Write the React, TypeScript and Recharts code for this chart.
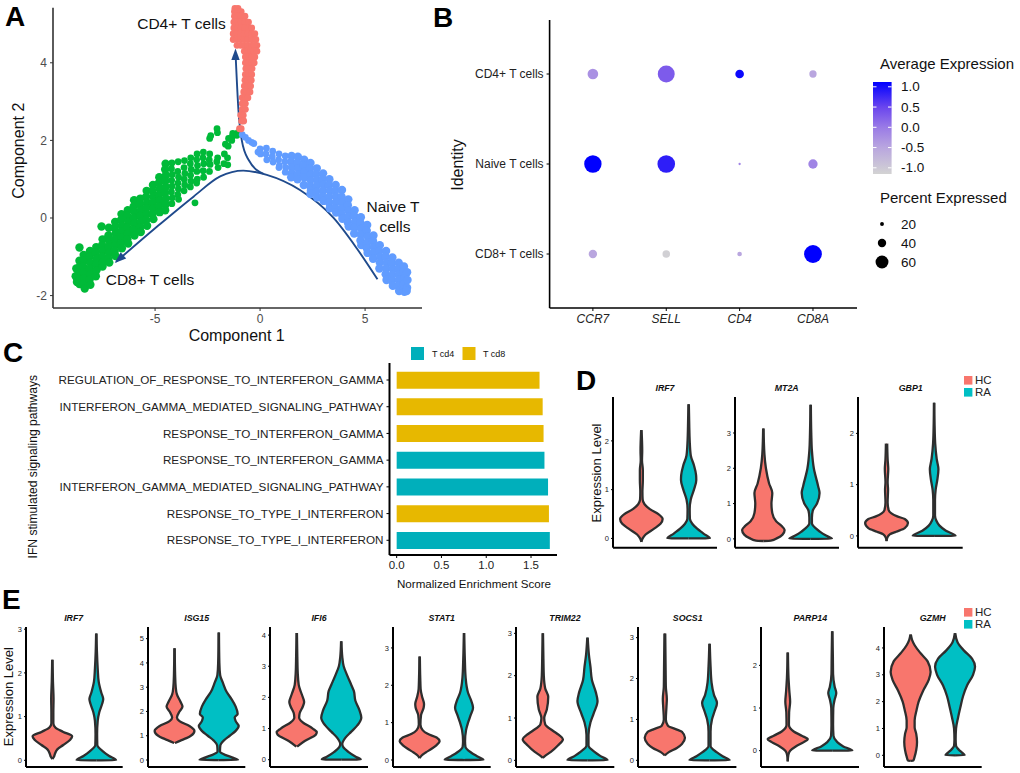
import React from "react";
import {
  ComposedChart, BarChart, Bar, Area, Line, Scatter, XAxis, YAxis,
} from "recharts";

const FONT = "'Liberation Sans', Arial, sans-serif";
const RED = "#F8766D";
const TEAL = "#00BFC4";
type P = [number, number];

/* ---------- Panel A: cells in component space ---------- */
const cd8Cells: P[] = [
  [-8.75,-1.3],[-8.78,-1.5],[-8.72,-1.65],[-8.6,-1.1],[-8.58,-1.25],[-8.62,-1.4],[-8.57,-1.55],[-8.6,-1.7],[-8.6,-0.76],
  [-8.4,-0.95],[-8.38,-1.1],[-8.42,-1.25],[-8.4,-1.4],[-8.37,-1.55],[-8.41,-1.7],[-8.35,-1.82],
  [-8.1,-0.85],[-8.12,-1.0],[-8.08,-1.15],[-8.11,-1.3],[-8.09,-1.45],[-8.12,-1.6],[-8.08,-1.72],
  [-7.8,-0.75],[-7.82,-0.9],[-7.78,-1.05],[-7.81,-1.2],[-7.79,-1.35],[-7.82,-1.5],
  [-7.5,-0.55],[-7.52,-0.7],[-7.48,-0.85],[-7.51,-1.0],[-7.49,-1.15],[-7.5,-1.25],[-7.55,-0.22],
  [-7.2,-0.25],[-7.22,-0.45],[-7.18,-0.6],[-7.21,-0.75],[-7.19,-0.9],[-7.22,-1.05],[-7.18,-1.15],
  [-6.9,-0.1],[-6.92,-0.25],[-6.88,-0.4],[-6.91,-0.55],[-6.89,-0.7],[-6.92,-0.85],[-6.88,-0.98],
  [-6.6,0.1],[-6.62,-0.05],[-6.58,-0.2],[-6.61,-0.35],[-6.59,-0.5],[-6.62,-0.65],[-6.58,-0.78],
  [-6.3,0.2],[-6.32,0.05],[-6.28,-0.1],[-6.31,-0.25],[-6.29,-0.4],[-6.32,-0.55],[-6.28,-0.66],
  [-6.0,0.46],[-6.02,0.3],[-5.98,0.15],[-6.01,0.0],[-5.99,-0.15],[-6.02,-0.3],[-5.98,-0.45],
  [-5.7,0.5],[-5.72,0.35],[-5.68,0.2],[-5.71,0.05],[-5.69,-0.1],[-5.72,-0.25],[-5.68,-0.36],
  [-5.4,0.7],[-5.42,0.55],[-5.38,0.4],[-5.41,0.25],[-5.39,0.1],[-5.42,-0.05],[-5.38,-0.2],
  [-5.1,0.85],[-5.12,0.7],[-5.08,0.55],[-5.11,0.4],[-5.09,0.25],[-5.12,0.1],[-5.08,-0.03],
  [-4.8,1.05],[-4.82,0.9],[-4.78,0.75],[-4.81,0.6],[-4.79,0.45],[-4.82,0.3],[-4.78,0.15],
  [-4.5,1.4],[-4.52,1.25],[-4.48,1.1],[-4.51,0.95],[-4.49,0.8],[-4.52,0.65],[-4.48,0.5],[-4.5,0.35],[-4.52,0.2],
  [-4.2,1.42],[-4.22,1.27],[-4.18,1.12],[-4.21,0.97],[-4.19,0.82],[-4.22,0.67],[-4.18,0.52],[-4.2,0.37],
  [-3.9,1.45],[-3.92,1.2],[-3.88,1.05],[-3.91,0.9],[-3.89,0.75],[-3.92,0.6],[-3.88,0.48],
  [-3.6,1.48],[-3.62,1.3],[-3.58,1.15],[-3.61,1.0],[-3.59,0.85],[-3.62,0.7],
  [-3.3,1.55],[-3.32,1.4],[-3.28,1.25],[-3.31,1.1],[-3.29,0.95],[-3.32,0.8],
  [-3.0,1.65],[-3.02,1.5],[-2.98,1.35],[-3.01,1.2],[-2.99,1.0],[-3.02,0.9],[-3.1,0.39],
  [-2.7,1.7],[-2.72,1.55],[-2.68,1.4],[-2.71,1.22],[-2.69,1.05],
  [-2.4,1.65],[-2.42,1.5],[-2.38,1.38],[-2.41,1.2],[-2.4,2.05],[-2.35,2.12],
  [-2.05,2.3],[-2.03,2.2],[-2.02,1.55],[-2.06,1.45],[-2.0,1.3],
  [-1.7,1.65],[-1.72,1.4],[-1.65,1.9],[-1.5,2.05],[-1.52,1.85],[-1.55,1.55],[-1.54,1.37],
  [-1.3,2.18],[-1.32,2.1],[-1.35,2.0],[-1.05,2.2],[-1.1,2.13],
];
const naiveCells: P[] = [
  [-0.85,2.15],[-0.7,2.08],[-0.55,2.0],[-0.4,1.95],[-0.3,1.92],[-0.1,1.7],
  [0.0,1.78],[0.02,1.65],[0.3,1.8],[0.28,1.65],[0.32,1.5],[0.6,1.72],[0.58,1.58],[0.62,1.44],
  [0.9,1.65],[0.88,1.5],[0.92,1.35],[0.9,1.3],[1.2,1.6],[1.18,1.45],[1.22,1.3],[1.2,1.18],
  [1.5,1.6],[1.48,1.45],[1.52,1.3],[1.5,1.15],[1.48,1.05],[1.8,1.58],[1.78,1.42],[1.82,1.28],[1.8,1.12],[1.78,1.0],
  [2.1,1.5],[2.08,1.35],[2.12,1.2],[2.1,1.05],[2.08,0.85],
  [2.4,1.42],[2.38,1.27],[2.42,1.12],[2.4,0.97],[2.38,0.82],[2.42,0.7],[2.4,0.62],
  [2.7,1.28],[2.68,1.13],[2.72,0.98],[2.7,0.83],[2.68,0.68],[2.72,0.53],
  [3.0,1.15],[2.98,1.0],[3.02,0.85],[3.0,0.7],[2.98,0.55],[3.02,0.44],
  [3.3,1.0],[3.28,0.85],[3.32,0.7],[3.3,0.55],[3.28,0.4],[3.32,0.25],
  [3.6,0.85],[3.58,0.7],[3.62,0.55],[3.6,0.4],[3.58,0.25],[3.62,0.14],
  [3.9,0.72],[3.88,0.55],[3.92,0.4],[3.9,0.25],[3.88,0.1],[3.92,-0.02],
  [4.2,0.48],[4.18,0.33],[4.22,0.18],[4.2,0.03],[4.18,-0.12],[4.22,-0.22],
  [4.5,0.2],[4.48,0.05],[4.52,-0.1],[4.5,-0.25],[4.48,-0.4],
  [4.8,0.02],[4.78,-0.13],[4.82,-0.28],[4.8,-0.43],[4.78,-0.58],[4.82,-0.7],
  [5.1,-0.18],[5.08,-0.33],[5.12,-0.48],[5.1,-0.63],[5.08,-0.78],[5.12,-0.9],
  [5.4,-0.45],[5.38,-0.6],[5.42,-0.75],[5.4,-0.9],[5.38,-1.05],
  [5.7,-0.7],[5.68,-0.85],[5.72,-1.0],[5.7,-1.15],[5.68,-1.3],
  [6.0,-0.85],[5.98,-1.0],[6.02,-1.15],[6.0,-1.3],[5.98,-1.45],[6.02,-1.6],
  [6.3,-1.02],[6.28,-1.17],[6.32,-1.32],[6.3,-1.47],[6.28,-1.62],[6.32,-1.75],
  [6.6,-1.15],[6.58,-1.3],[6.62,-1.45],[6.6,-1.6],[6.58,-1.75],[6.62,-1.88],
  [6.85,-1.25],[6.83,-1.4],[6.87,-1.55],[6.85,-1.7],[6.83,-1.85],[6.87,-1.9],
  [7.0,-1.4],[7.02,-1.6],[7.0,-1.8],[6.98,-1.88],
];
const cd4Cells: P[] = [
  [-1.2,5.4],[-1.05,5.4],[-1.22,5.32],[-1.05,5.32],[-0.9,5.32],[-1.22,5.2],[-1.05,5.2],[-0.9,5.2],[-0.72,5.2],
  [-1.25,5.05],[-1.08,5.05],[-0.9,5.05],[-0.72,5.05],[-0.55,5.05],[-1.25,4.9],[-1.08,4.9],[-0.9,4.9],[-0.72,4.9],[-0.55,4.9],[-0.4,4.9],
  [-1.28,4.75],[-1.1,4.75],[-0.92,4.75],[-0.75,4.75],[-0.58,4.75],[-0.4,4.75],[-0.25,4.75],
  [-1.28,4.6],[-1.1,4.6],[-0.92,4.6],[-0.75,4.6],[-0.58,4.6],[-0.4,4.6],[-0.2,4.6],
  [-1.1,4.45],[-0.92,4.45],[-0.75,4.45],[-0.58,4.45],[-0.4,4.45],[-0.15,4.45],[-0.28,4.45],
  [-0.75,4.3],[-0.6,4.3],[-0.45,4.3],[-0.3,4.3],[-0.15,4.3],[-0.7,4.15],[-0.55,4.15],[-0.4,4.15],[-0.25,4.15],
  [-0.7,4.0],[-0.55,4.0],[-0.4,4.0],[-0.28,4.0],[-0.68,3.85],[-0.53,3.85],[-0.38,3.85],
  [-0.7,3.7],[-0.55,3.7],[-0.4,3.7],[-0.72,3.55],[-0.57,3.55],[-0.42,3.55],[-0.75,3.4],[-0.6,3.4],[-0.45,3.4],
  [-0.78,3.25],[-0.62,3.25],[-0.48,3.25],[-0.85,3.1],[-0.7,3.1],[-0.58,3.1],[-0.85,2.95],[-0.7,2.95],
  [-0.85,2.8],[-0.7,2.8],[-0.92,2.65],[-0.8,2.65],[-0.88,2.5],[-0.78,2.5],[-0.98,2.3],[-0.9,2.3],
];
const stemPath: P[] = [[-6.86,-1.13],[-4.9,-0.22],[-3.17,0.55],[-1.9,1.07],[-0.8,1.22],[0.32,1.11],[1.9,0.72],[3.5,0.0],[4.6,-0.78],[5.59,-1.58]];
const cd4Branch: P[] = [[-1.16,4.15],[-1.03,2.78],[-0.87,2.0],[-0.55,1.5],[0.16,1.14]];
const arrowTips = [{ x: -1.17, y: 4.37, angle: 0 }, { x: -6.92, y: -1.16, angle: -131 }];

const pts = (a: P[]) => a.map(([x, y]) => ({ x, y }));
const cd8Dense = cd8Cells.filter(([x]) => x < -4.4);
const cd8Loose = cd8Cells.filter(([x]) => x >= -4.4);
const naiveDense = naiveCells.filter(([x]) => x >= 1.4);
const naiveLoose = naiveCells.filter(([x]) => x < 1.4);

/* ---------- Panel B: dot plot ---------- */
const genes = ["CCR7", "SELL", "CD4", "CD8A"];
const identities = ["CD8+ T cells", "Naive T cells", "CD4+ T cells"];
const cd4Row = { pct: [50, 78, 41, 35], avg: [-0.25, 0.3, 1.05, -0.5] };
const naiveRow = { pct: [80, 81, 13, 44], avg: [1.15, 0.85, -0.1, -0.1] };
const cd8Row = { pct: [40, 36, 23, 82], avg: [-0.5, -1.1, -0.5, 1.2] };
const exprStops: [number, string][] = [[1.12, "#0000ff"], [0.5, "#6a45ee"], [0, "#9a7be6"], [-0.5, "#b9a6df"], [-1.15, "#d3d3d3"]];
const pctLegend = [20, 40, 60];
const exprTicks = [1.0, 0.5, 0.0, -0.5, -1.0];

const hex = (s: string) => [1, 3, 5].map((i) => parseInt(s.slice(i, i + 2), 16));
function exprColor(v: number) {
  for (let i = 0; i < exprStops.length - 1; i++) {
    const [a, ca] = exprStops[i];
    const [b, cb] = exprStops[i + 1];
    if (v <= a && v >= b) {
      const t = (a - v) / (a - b);
      const A = hex(ca), B = hex(cb);
      return `rgb(${A.map((c, k) => Math.round(c + (B[k] - c) * t)).join(",")})`;
    }
  }
  return v > 0 ? exprStops[0][1] : exprStops[exprStops.length - 1][1];
}
const pctRadius = (p: number) => 0.1125 * p - 0.3;
const dotRows = [cd8Row, naiveRow, cd4Row].flatMap((row, r) =>
  genes.map((_, g) => ({ x: g + 1, y: r + 1, pct: row.pct[g], avg: row.avg[g] }))
);

/* ---------- Panel C: enrichment ---------- */
const pathways = [
  "REGULATION_OF_RESPONSE_TO_INTERFERON_GAMMA",
  "INTERFERON_GAMMA_MEDIATED_SIGNALING_PATHWAY",
  "RESPONSE_TO_INTERFERON_GAMMA",
  "RESPONSE_TO_INTERFERON_GAMMA",
  "INTERFERON_GAMMA_MEDIATED_SIGNALING_PATHWAY",
  "RESPONSE_TO_TYPE_I_INTERFERON",
  "RESPONSE_TO_TYPE_I_INTERFERON",
];
const nesCd4 = [null, null, null, 1.65, 1.69, null, 1.71];
const nesCd8 = [1.595, 1.63, 1.64, null, null, 1.7, null];
const nesRows = pathways.map((name, i) => ({ name, cd4: nesCd4[i], cd8: nesCd8[i] }));

/* ---------- Panels D, E: violins as [level, relative half width] ---------- */
const dIrf7Hc: P[] = [[-0.07,0],[0,0.06],[0.08,0.2],[0.2,0.6],[0.3,0.9],[0.4,1],[0.5,0.8],[0.6,0.4],[0.7,0.15],[0.8,0.06],[0.95,0.05],[1.2,0.07],[1.4,0.07],[1.6,0.03],[1.8,0.04],[2.22,0.01]];
const dIrf7Ra: P[] = [[-0.001,0],[0,1],[0.1,0.7],[0.2,0.4],[0.3,0.17],[0.4,0.06],[0.6,0.05],[0.8,0.1],[1,0.25],[1.2,0.36],[1.3,0.35],[1.5,0.25],[1.7,0.1],[2,0.05],[2.3,0.03],[2.75,0.01]];
const dMt2aHc: P[] = [[-0.06,0],[-0.05,0.35],[0.02,0.65],[0.12,0.9],[0.25,1],[0.37,0.85],[0.5,0.6],[0.73,0.42],[1,0.38],[1.3,0.42],[1.57,0.27],[2,0.12],[2.4,0.05],[3.13,0.01]];
const dMt2aRa: P[] = [[-0.001,0],[0,1],[0.1,0.7],[0.2,0.45],[0.44,0.06],[0.6,0.06],[0.8,0.1],[1,0.3],[1.3,0.42],[1.5,0.35],[2,0.15],[2.5,0.06],[3,0.03],[3.8,0.01]];
const dGbp1Hc: P[] = [[-0.1,0],[-0.04,0.03],[0.03,0.15],[0.08,0.45],[0.15,0.85],[0.25,1],[0.33,0.85],[0.38,0.5],[0.5,0.1],[0.65,0.05],[0.9,0.07],[1.05,0.05],[1.3,0.08],[1.5,0.05],[1.8,0.03]];
const dGbp1Ra: P[] = [[-0.001,0],[0,1],[0.1,0.55],[0.2,0.25],[0.3,0.1],[0.4,0.04],[0.7,0.04],[0.9,0.07],[1.1,0.15],[1.3,0.2],[1.5,0.12],[1.8,0.05],[2.2,0.02],[2.6,0.01]];

const eIrf7Hc: P[] = [[0.03,0],[0.08,0.08],[0.15,0.13],[0.25,0.25],[0.35,0.55],[0.47,0.9],[0.55,1],[0.65,0.55],[0.75,0.15],[0.85,0.05],[1.1,0.05],[1.4,0.06],[1.8,0.03],[2.3,0.01]];
const eIrf7Ra: P[] = [[-0.001,0],[0,1],[0.1,0.65],[0.2,0.35],[0.35,0.05],[0.6,0.04],[0.9,0.07],[1.1,0.15],[1.3,0.3],[1.4,0.35],[1.55,0.25],[1.8,0.12],[2.1,0.07],[2.5,0.03],[2.9,0.01]];
const eIsg15Hc: P[] = [[0.7,0.02],[0.8,0.3],[0.9,0.6],[1,0.82],[1.2,1],[1.4,0.75],[1.6,0.25],[1.75,0.12],[2,0.25],[2.2,0.4],[2.4,0.3],[2.7,0.12],[3,0.06],[3.5,0.03],[4.6,0.01]];
const eIsg15Ra: P[] = [[-0.001,0],[0,0.97],[0.1,0.7],[0.2,0.35],[0.35,0.06],[0.6,0.08],[0.8,0.25],[1,0.55],[1.2,0.85],[1.4,1],[1.6,0.85],[1.75,0.8],[1.9,0.95],[2.2,0.85],[2.5,0.65],[2.8,0.4],[3.2,0.2],[3.5,0.07],[4,0.03],[5.25,0.01]];
const eIfi6Hc: P[] = [[0.42,0.02],[0.6,0.4],[0.8,0.95],[0.88,1],[1,0.8],[1.2,0.3],[1.35,0.12],[1.5,0.15],[1.7,0.3],[1.85,0.37],[2.1,0.25],[2.4,0.1],[2.8,0.05],[3.3,0.03],[4.07,0.01]];
const eIfi6Ra: P[] = [[-0.001,0],[0,0.97],[0.1,0.7],[0.25,0.35],[0.4,0.1],[0.5,0.05],[0.7,0.2],[0.9,0.5],[1.1,0.8],[1.35,1],[1.6,0.9],[1.9,0.7],[2.2,0.63],[2.4,0.5],[2.7,0.3],[3,0.12],[3.3,0.05],[3.8,0.01]];
const eStat1Hc: P[] = [[0.05,0],[0.12,0.1],[0.2,0.3],[0.3,0.6],[0.4,0.85],[0.5,1],[0.6,0.85],[0.7,0.4],[0.8,0.15],[0.95,0.04],[1.2,0.07],[1.4,0.2],[1.5,0.22],[1.7,0.12],[1.9,0.05],[2.2,0.03],[2.77,0.01]];
const eStat1Ra: P[] = [[-0.001,0],[0,0.97],[0.1,0.65],[0.2,0.35],[0.35,0.07],[0.5,0.05],[0.8,0.1],[1,0.2],[1.2,0.33],[1.4,0.45],[1.6,0.35],[1.8,0.2],[2.2,0.08],[2.7,0.04],[3.4,0.01]];
const eTrim22Hc: P[] = [[0.06,0],[0.1,0.1],[0.2,0.4],[0.35,0.75],[0.5,1],[0.6,0.8],[0.7,0.5],[0.85,0.12],[1,0.07],[1.2,0.2],[1.5,0.27],[1.7,0.12],[2,0.05],[2.4,0.03],[3,0.01]];
const eTrim22Ra: P[] = [[-0.001,0],[0,1],[0.1,0.65],[0.2,0.35],[0.35,0.05],[0.6,0.05],[0.9,0.15],[1.1,0.3],[1.4,0.5],[1.6,0.42],[1.9,0.22],[2.2,0.15],[2.5,0.07],[2.9,0.01]];
const eSocs1Hc: P[] = [[0.12,0],[0.2,0.2],[0.3,0.6],[0.4,0.85],[0.55,1],[0.7,0.85],[0.75,0.6],[0.85,0.15],[1,0.05],[1.3,0.08],[1.5,0.1],[1.8,0.05],[2.2,0.04],[3.1,0.02]];
const eSocs1Ra: P[] = [[-0.001,0],[0,1],[0.1,0.65],[0.2,0.35],[0.35,0.05],[0.7,0.05],[1,0.12],[1.2,0.25],[1.4,0.37],[1.6,0.22],[1.9,0.1],[2.3,0.05],[2.85,0.01]];
const eParp14Hc: P[] = [[-0.25,0],[-0.1,0.03],[0,0.12],[0.1,0.4],[0.2,0.8],[0.27,1],[0.35,0.7],[0.45,0.3],[0.6,0.06],[0.9,0.07],[1.15,0.12],[1.4,0.08],[1.7,0.04],[2.3,0.01]];
const eParp14Ra: P[] = [[-0.001,0],[0,1],[0.1,0.55],[0.2,0.25],[0.35,0.06],[0.6,0.04],[1,0.05],[1.2,0.12],[1.35,0.2],[1.5,0.12],[1.8,0.04],[2.2,0.03],[2.8,0.01]];
const eGzmhHc: P[] = [[-0.21,0],[-0.2,0.13],[-0.05,0.2],[0.2,0.28],[0.5,0.32],[0.8,0.28],[1.05,0.2],[1.3,0.2],[1.7,0.3],[2,0.4],[2.4,0.62],[2.8,0.9],[3.1,1],[3.5,0.85],[3.8,0.5],[4.1,0.2],[4.3,0.07],[4.5,0.01]];
const eGzmhRa: P[] = [[-0.001,0],[0,0.48],[0.1,0.35],[0.2,0.2],[0.35,0.05],[0.6,0.03],[1,0.05],[1.4,0.15],[1.8,0.27],[2.2,0.4],[2.6,0.6],[3,0.9],[3.3,1],[3.6,0.85],[3.9,0.45],[4.2,0.13],[4.55,0.01]];

const band = (v: P[], center: number) =>
  v.map(([y, w]) => ({ y, range: [center - 0.45 * w, center + 0.45 * w] }));

type VP = { x0: number; x1: number; top: number; bottom: number; domain: number[]; ticks: number[]; hc: P[]; ra: P[]; font: number };

function Violin({ x0, x1, top, bottom, domain, ticks, hc, ra, font }: VP) {
  const L = 26;
  return (
    <div style={{ position: "absolute", left: x0 - L, top: top - 2 }}>
      <ComposedChart layout="vertical" width={x1 - x0 + L + 4} height={bottom - top + 7}
        margin={{ top: 2, right: 4, bottom: 4, left: 0 }}>
        <XAxis type="number" domain={[0.4, 2.6]} tick={false} tickLine={false} height={1}
          axisLine={{ stroke: "#000", strokeWidth: 2 }} />
        <YAxis type="number" dataKey="y" reversed width={L} domain={domain} ticks={ticks} interval={0}
          tickSize={2} tickMargin={2} tick={{ fontSize: font, fill: "#222", fontFamily: FONT }}
          axisLine={{ stroke: "#000", strokeWidth: 2 }} tickLine={{ stroke: "#000" }} />
        <Area data={band(hc, 1)} dataKey="range" type="monotone" fill={RED} fillOpacity={1}
          stroke="#2e2e2e" strokeWidth={2.3} dot={false} activeDot={false} isAnimationActive={false} />
        <Area data={band(ra, 2)} dataKey="range" type="monotone" fill={TEAL} fillOpacity={1}
          stroke="#2e2e2e" strokeWidth={2.3} dot={false} activeDot={false} isAnimationActive={false} />
      </ComposedChart>
    </div>
  );
}

const dTop = 397, dBottom = 547.7, eTop = 627.3, eBottom = 767.3;
const panelD: (VP & { title: string })[] = [
  { title: "IRF7", x0: 613, x1: 717, top: dTop, bottom: dBottom, domain: [-0.19, 2.9], ticks: [0, 1, 2], hc: dIrf7Hc, ra: dIrf7Ra, font: 7.5 },
  { title: "MT2A", x0: 735, x1: 839, top: dTop, bottom: dBottom, domain: [-0.25, 4.02], ticks: [0, 1, 2, 3], hc: dMt2aHc, ra: dMt2aRa, font: 7.5 },
  { title: "GBP1", x0: 858.3, x1: 963, top: dTop, bottom: dBottom, domain: [-0.23, 2.71], ticks: [0, 1, 2], hc: dGbp1Hc, ra: dGbp1Ra, font: 7.5 },
];
const panelE: (VP & { title: string })[] = [
  { title: "IRF7", x0: 26, x1: 122.7, top: eTop, bottom: eBottom, domain: [-0.153, 3.05], ticks: [0, 1, 2, 3], hc: eIrf7Hc, ra: eIrf7Ra, font: 7.5 },
  { title: "ISG15", x0: 147.7, x1: 245, top: eTop, bottom: eBottom, domain: [-0.288, 5.48], ticks: [0, 1, 2, 3, 4, 5], hc: eIsg15Hc, ra: eIsg15Ra, font: 7.5 },
  { title: "IFI6", x0: 270, x1: 368, top: eTop, bottom: eBottom, domain: [-0.235, 4.26], ticks: [0, 1, 2, 3, 4], hc: eIfi6Hc, ra: eIfi6Ra, font: 7.5 },
  { title: "STAT1", x0: 393, x1: 490.7, top: eTop, bottom: eBottom, domain: [-0.1875, 3.56], ticks: [0, 1, 2, 3], hc: eStat1Hc, ra: eStat1Ra, font: 7.5 },
  { title: "TRIM22", x0: 515.7, x1: 614, top: eTop, bottom: eBottom, domain: [-0.157, 3.15], ticks: [0, 1, 2, 3], hc: eTrim22Hc, ra: eTrim22Ra, font: 7.5 },
  { title: "SOCS1", x0: 638.3, x1: 736.7, top: eTop, bottom: eBottom, domain: [-0.163, 3.26], ticks: [0, 1, 2, 3], hc: eSocs1Hc, ra: eSocs1Ra, font: 7.5 },
  { title: "PARP14", x0: 761.3, x1: 859.3, top: eTop, bottom: eBottom, domain: [-0.383, 2.9], ticks: [0, 1, 2], hc: eParp14Hc, ra: eParp14Ra, font: 7.5 },
  { title: "GZMH", x0: 884, x1: 981.7, top: eTop, bottom: eBottom, domain: [-0.435, 4.78], ticks: [0, 1, 2, 3, 4], hc: eGzmhHc, ra: eGzmhRa, font: 7.5 },
];
const titleD = [665, 786.7, 910.7];
const titleE = [73.7, 196.7, 319, 441.7, 565, 687.7, 810.3, 932.7];

function T({ x, y, s, size = 12, anchor = "start", weight, italic, rot, fill = "#111" }: any) {
  return (
    <text x={x} y={y} fontSize={size} textAnchor={anchor} dominantBaseline="central" fontWeight={weight}
      fontStyle={italic ? "italic" : undefined} fill={fill} fontFamily={FONT}
      transform={rot ? `rotate(${rot} ${x} ${y})` : undefined}>{s}</text>
  );
}

const Arrow = (p: any) => (
  <polygon points={`${p.cx},${p.cy} ${p.cx - 4.2},${p.cy + 11.5} ${p.cx + 4.2},${p.cy + 11.5}`} fill="#1F4A8C"
    transform={`rotate(${p.payload.angle} ${p.cx} ${p.cy})`} />
);
const Dot = (p: any) => <circle cx={p.cx} cy={p.cy} r={pctRadius(p.payload.pct)} fill={exprColor(p.payload.avg)} />;
const cell = (r: number, fill: string) => (p: any) => <circle cx={p.cx} cy={p.cy} r={r} fill={fill} />;

function LegendHcRa({ x, y }: { x: number; y: number }) {
  return (
    <g>
      <rect x={x} y={y} width={8.4} height={8.6} fill={RED} />
      <rect x={x} y={y + 12} width={8.4} height={8.6} fill={TEAL} />
      <T x={x + 11} y={y + 4.3} s="HC" size={11.5} fill="#222" />
      <T x={x + 11} y={y + 16.3} s="RA" size={11.5} fill="#222" />
    </g>
  );
}

export default function App() {
  const axisA = { stroke: "#333", strokeWidth: 1.6 };
  const axisK = { stroke: "#000", strokeWidth: 1.6 };
  return (
    <div style={{ position: "absolute", left: 0, top: 0, width: 1020, height: 773, background: "#fff", overflow: "hidden", fontFamily: FONT }}>
      {/* A */}
      <div style={{ position: "absolute", left: 0, top: 0 }}>
        <ComposedChart width={430} height={340} margin={{ top: 7.7, right: 8, bottom: 0, left: 0 }}>
          <XAxis type="number" dataKey="x" domain={[-9.86, 7.71]} ticks={[-5, 0, 5]} height={32} tickSize={3} tickMargin={3}
            tick={{ fontSize: 12, fill: "#4d4d4d", fontFamily: FONT }} axisLine={axisA} tickLine={{ stroke: "#333" }} />
          <YAxis type="number" dataKey="y" domain={[-2.32, 5.42]} ticks={[-2, 0, 2, 4]} width={53} tickSize={3} tickMargin={3}
            tick={{ fontSize: 12, fill: "#4d4d4d", fontFamily: FONT }} axisLine={axisA} tickLine={{ stroke: "#333" }} />
          <Scatter data={pts(cd8Dense)} shape={cell(4.2, "#00BA38")} isAnimationActive={false} />
          <Scatter data={pts(cd8Loose)} shape={cell(3.4, "#00BA38")} isAnimationActive={false} />
          <Scatter data={pts(naiveDense)} shape={cell(4.2, "#619CFF")} isAnimationActive={false} />
          <Scatter data={pts(naiveLoose)} shape={cell(3.4, "#619CFF")} isAnimationActive={false} />
          <Scatter data={pts(cd4Cells)} shape={cell(3.4, RED)} isAnimationActive={false} />
          <Line data={pts(stemPath)} dataKey="y" type="monotone" stroke="#1F4A8C" strokeWidth={1.9} dot={false} activeDot={false} isAnimationActive={false} />
          <Line data={pts(cd4Branch)} dataKey="y" type="monotone" stroke="#1F4A8C" strokeWidth={1.9} dot={false} activeDot={false} isAnimationActive={false} />
          <Scatter data={arrowTips} shape={Arrow} isAnimationActive={false} />
        </ComposedChart>
      </div>

      {/* B */}
      <div style={{ position: "absolute", left: 430, top: 0 }}>
        <ComposedChart width={440} height={340} margin={{ top: 20, right: 13, bottom: 0, left: 0 }}>
          <XAxis type="number" dataKey="x" domain={[0.41, 4.6]} ticks={[1, 2, 3, 4]} height={32} tickSize={3} tickMargin={3}
            tickFormatter={(v: number) => genes[v - 1]} interval={0}
            tick={{ fontSize: 12, fill: "#222", fontStyle: "italic", fontFamily: FONT }} axisLine={axisK} tickLine={{ stroke: "#000" }} />
          <YAxis type="number" dataKey="y" domain={[0.4, 3.6]} ticks={[1, 2, 3]} width={119.6} tickSize={3} tickMargin={3}
            tickFormatter={(v: number) => identities[v - 1]} interval={0}
            tick={{ fontSize: 12, fill: "#222", fontFamily: FONT }} axisLine={axisK} tickLine={{ stroke: "#000" }} />
          <Scatter data={dotRows} shape={Dot} isAnimationActive={false} />
        </ComposedChart>
      </div>

      {/* C */}
      <div style={{ position: "absolute", left: 0, top: 363 }}>
        <BarChart layout="vertical" data={nesRows} width={560} height={222} barSize={17}
          margin={{ top: 0, right: 3, bottom: 0, left: 0 }}>
          <XAxis type="number" domain={[-0.08, 1.79]} ticks={[0, 0.5, 1, 1.5]} height={30} tickSize={3} tickMargin={3}
            tickFormatter={(v: number) => v.toFixed(1)}
            tick={{ fontSize: 11.5, fill: "#222", fontFamily: FONT }} axisLine={{ stroke: "#000", strokeWidth: 2 }} tickLine={{ stroke: "#000" }} />
          <YAxis type="category" dataKey="name" width={389.5} tickSize={3} tickMargin={3} interval={0}
            padding={{ top: 3.65, bottom: 1.35 }}
            tick={{ fontSize: 11.7, fill: "#222", fontFamily: FONT }} axisLine={{ stroke: "#000", strokeWidth: 2 }} tickLine={{ stroke: "#000" }} />
          <Bar dataKey="cd4" stackId="nes" fill="#00AFBB" isAnimationActive={false} />
          <Bar dataKey="cd8" stackId="nes" fill="#E7B800" isAnimationActive={false} />
        </BarChart>
      </div>

      {/* D, E */}
      {panelD.map((p) => <Violin key={"d" + p.title} {...p} />)}
      {panelE.map((p) => <Violin key={"e" + p.title} {...p} />)}

      {/* text and legends */}
      <svg width={1020} height={773} style={{ position: "absolute", left: 0, top: 0, pointerEvents: "none" }}>
        <defs>
          <linearGradient id="expr" x1="0" y1="0" x2="0" y2="1">
            {exprStops.map(([v, c]) => (
              <stop key={v} offset={(1.12 - v) / 2.27} stopColor={c} />
            ))}
          </linearGradient>
        </defs>
        <T x={5} y={16} s="A" size={28} weight="bold" fill="#000" />
        <T x={433} y={17} s="B" size={28} weight="bold" fill="#000" />
        <T x={3} y={352} s="C" size={28} weight="bold" fill="#000" />
        <T x={576} y={380} s="D" size={28} weight="bold" fill="#000" />
        <T x={2} y={599} s="E" size={28} weight="bold" fill="#000" />

        <T x={181.5} y={23} s="CD4+ T cells" size={15.5} anchor="middle" />
        <T x={393} y={206} s="Naive T" size={15.5} anchor="middle" />
        <T x={395} y={226} s="cells" size={15.5} anchor="middle" />
        <T x={150} y={279} s="CD8+ T cells" size={15.5} anchor="middle" />
        <T x={236.7} y={335} s="Component 1" size={16} anchor="middle" />
        <T x={19} y={150.7} s="Component 2" size={16} anchor="middle" rot={-90} />

        <T x={457.5} y={165} s="Identity" size={16} anchor="middle" rot={-90} />
        <T x={880} y={63} s="Average Expression" size={15} />
        <rect x={873} y={82} width={18.6} height={92} fill="url(#expr)" />
        {exprTicks.map((v) => {
          const y = 127.3 - v * 40.5;
          return (
            <g key={v}>
              <line x1={873} x2={876.5} y1={y} y2={y} stroke="#fff" />
              <line x1={888} x2={891.6} y1={y} y2={y} stroke="#fff" />
              <T x={901} y={y} s={v.toFixed(1)} size={13.5} />
            </g>
          );
        })}
        <T x={880} y={197} s="Percent Expressed" size={15} />
        {pctLegend.map((p, i) => (
          <g key={p}>
            <circle cx={882} cy={224 + i * 19} r={pctRadius(p)} fill="#000" />
            <T x={901} y={224 + i * 19} s={String(p)} size={13.5} />
          </g>
        ))}

        <rect x={411} y={347} width={13} height={13} fill="#00AFBB" />
        <T x={432} y={353.5} s="T cd4" size={9} />
        <rect x={462.5} y={347} width={13} height={13} fill="#E7B800" />
        <T x={483} y={353.5} s="T cd8" size={9} />
        <T x={33.5} y={466.7} s="IFN stimulated signaling pathways" size={12.1} anchor="middle" rot={-90} />
        <T x={474} y={583} s="Normalized Enrichment Score" size={11.6} anchor="middle" />

        <T x={596} y={473} s="Expression Level" size={13} anchor="middle" rot={-90} />
        {panelD.map((p, i) => <T key={p.title} x={titleD[i]} y={388} s={p.title} size={8.8} weight="bold" italic anchor="middle" />)}
        <LegendHcRa x={964} y={376} />

        <T x={8.5} y={696.7} s="Expression Level" size={13} anchor="middle" rot={-90} />
        {panelE.map((p, i) => <T key={p.title} x={titleE[i]} y={618} s={p.title} size={8.8} weight="bold" italic anchor="middle" />)}
        <LegendHcRa x={964} y={608} />
      </svg>
    </div>
  );
}
